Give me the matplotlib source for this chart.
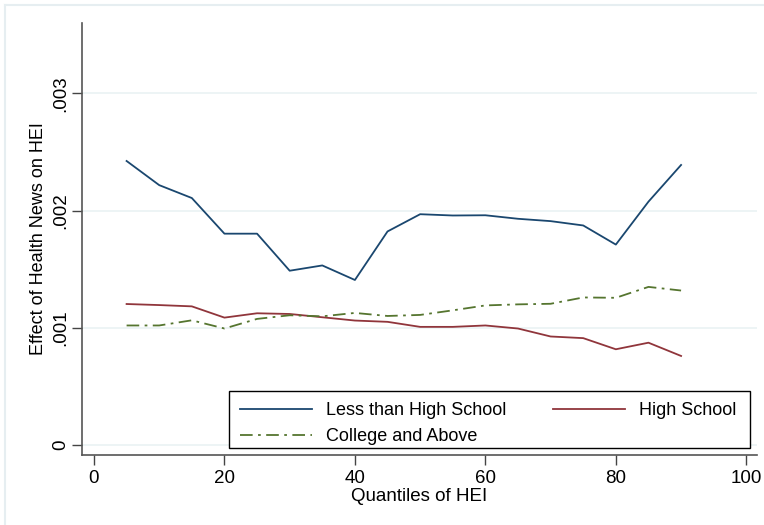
import matplotlib
matplotlib.use("Agg")
import matplotlib.pyplot as plt
from matplotlib.lines import Line2D
from matplotlib.patches import Rectangle

plt.rcParams['font.family'] = ['Liberation Sans', 'DejaVu Sans']

quantiles = [5, 10, 15, 20, 25, 30, 35, 40, 45, 50, 55, 60, 65, 70, 75, 80, 85, 90]

less_hs = [0.002423, 0.002217, 0.002107, 0.001803, 0.001803, 0.001487, 0.001532,
           0.001408, 0.001822, 0.001969, 0.001958, 0.001960, 0.001930, 0.001910,
           0.001873, 0.001710, 0.002076, 0.002389]
high_school = [0.001203, 0.001194, 0.001183, 0.001087, 0.001124, 0.001118, 0.001090,
               0.001062, 0.001051, 0.001008, 0.001008, 0.001020, 0.000994, 0.000926,
               0.000912, 0.000817, 0.000873, 0.000760]
college = [0.001020, 0.001020, 0.001064, 0.000994, 0.001076, 0.001107, 0.001098,
           0.001127, 0.001101, 0.001110, 0.001149, 0.001191, 0.001200, 0.001205,
           0.001259, 0.001256, 0.001349, 0.001318]

labels = ['Less than High School', 'High School', 'College and Above']
xticks = [0, 20, 40, 60, 80, 100]
yticks = [0, 0.001, 0.002, 0.003]
yticklabels = ['0', '.001', '.002', '.003']

navy = '#1a476f'
maroon = '#90353b'
green = '#55752f'

fig = plt.figure(figsize=(7.64, 5.25), dpi=100)
ax = fig.add_axes([0.1073, 0.1333, 0.8832, 0.8229])

# light outer frame (left and top edges)
fig.add_artist(Line2D([5/764, 5/764], [0, 1 - 5/525], color='#e6eef1', lw=1.5,
                      transform=fig.transFigure))
fig.add_artist(Line2D([5/764, 1], [1 - 5/525, 1 - 5/525], color='#e6eef1', lw=1.5,
                      transform=fig.transFigure))

l1, = ax.plot(quantiles, less_hs, color=navy, lw=1.3, label=labels[0])
l2, = ax.plot(quantiles, high_school, color=maroon, lw=1.3, label=labels[1])
l3, = ax.plot(quantiles, college, color=green, lw=1.3,
              dashes=(7, 3, 1.5, 3), label=labels[2])

ax.set_xlim(-1.84, 101.6)
ax.set_ylim(-0.000085, 0.0036)
ax.set_xticks(xticks)
ax.set_yticks(yticks)
ax.set_yticklabels(yticklabels, rotation=90, va='center')
ax.tick_params(axis='both', labelsize=13.5, colors='#444444', labelcolor='black',
               length=7, width=1)
ax.tick_params(axis='y', pad=2)
ax.grid(axis='y', color='#eaf2f3', lw=1.2)
ax.set_axisbelow(True)
for s in ['top', 'right']:
    ax.spines[s].set_visible(False)
for s in ['left', 'bottom']:
    ax.spines[s].set_color('#555555')
    ax.spines[s].set_linewidth(1.2)

ax.set_xlabel('Quantiles of HEI', fontsize=13.5, labelpad=1)
ax.set_ylabel('Effect of Health News on HEI', fontsize=13, labelpad=4)

# legend box drawn separately so the frame can be wider than its contents
box = (0.218, 0.016, 0.772, 0.132)
ax.add_patch(Rectangle(box[:2], box[2], box[3], transform=ax.transAxes,
                       facecolor='white', edgecolor='black', lw=1.0, zorder=4))
leg = ax.legend([l1, l3, l2], [labels[0], labels[2], labels[1]], ncol=2,
                loc='upper left', bbox_to_anchor=(box[0], box[1] + box[3]),
                fontsize=13, frameon=False,
                handlelength=4.0, handletextpad=0.75, borderpad=0.6,
                labelspacing=0.5, columnspacing=2.6, borderaxespad=0)
leg.set_zorder(5)

fig.savefig('out.png', dpi=100)
